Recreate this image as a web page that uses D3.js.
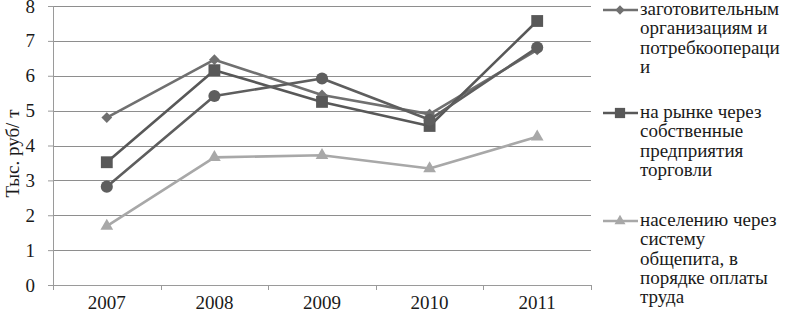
<!DOCTYPE html>
<html>
<head>
<meta charset="utf-8">
<script src="https://cdn.jsdelivr.net/npm/d3@7"></script>
<style>
  body { margin: 0; background: #fff; }
  text { font-family: "Liberation Serif", "Times New Roman", serif; fill: #1a1a1a; }
</style>
</head>
<body>
<svg id="drawing_region"></svg>
<script>
// data
const years = ["2007", "2008", "2009", "2010", "2011"];
const yTicks = [0, 1, 2, 3, 4, 5, 6, 7, 8];
const yTitle = "Тыс. руб/ т";

const procurement = [4.80, 6.46, 5.45, 4.90, 6.74];   // diamond
const market      = [3.52, 6.16, 5.25, 4.56, 7.57];   // square
const catering    = [1.69, 3.66, 3.72, 3.34, 4.25];   // triangle
const unnamed     = [2.82, 5.42, 5.92, 4.74, 6.81];   // circle, legend entry cut off

const legendLines = [
    ["заготовительным", "организациям и", "потребкоопераци", "и"],
    ["на рынке через", "собственные", "предприятия", "торговли"],
    ["населению через", "систему", "общепита, в", "порядке оплаты", "труда"]
];

const series = [
    { values: procurement, color: "#707070", shape: "diamond",  legend: 0 },
    { values: market,      color: "#585858", shape: "square",   legend: 1 },
    { values: catering,    color: "#a8a8a8", shape: "triangle", legend: 2 },
    { values: unnamed,     color: "#5e5e5e", shape: "circle",   legend: -1 }
];

const FONT = "Liberation Serif, Times New Roman, serif";

const config = {
    width: 792,
    height: 312,
    margin: { top: 6, right: 201, bottom: 27, left: 53 }
};

const svg = d3.select("#drawing_region")
    .attr("width", config.width)
    .attr("height", config.height);

const inner_width = config.width - config.margin.left - config.margin.right;
const inner_height = config.height - config.margin.top - config.margin.bottom;

const chart = svg.append("g")
    .attr("transform", `translate(${config.margin.left}, ${config.margin.top})`);

const xscale = d3.scaleBand()
    .domain(years)
    .range([0, inner_width])
    .padding(0);

const yscale = d3.scaleLinear()
    .domain([0, 8])
    .range([inner_height, 0]);

// gridlines
chart.append("g")
    .selectAll("line")
    .data(yTicks.filter(d => d > 0))
    .join("line")
    .attr("x1", 0)
    .attr("x2", inner_width)
    .attr("y1", d => Math.round(yscale(d)) + 0.5)
    .attr("y2", d => Math.round(yscale(d)) + 0.5)
    .attr("stroke", "#8e8e8e")
    .attr("stroke-width", 1);

// y axis
const yaxis = d3.axisLeft(yscale)
    .tickValues(yTicks)
    .tickSize(5)
    .tickPadding(13)
    .tickFormat(d3.format("d"));

const yaxis_group = chart.append("g").call(yaxis);
yaxis_group.select(".domain").remove();
yaxis_group.selectAll(".tick line").attr("stroke", "#9a9a9a");
yaxis_group.selectAll(".tick text")
    .attr("font-size", 19)
    .attr("font-family", FONT)
    .attr("fill", "#1a1a1a");

chart.append("line")
    .attr("x1", 0.5).attr("x2", 0.5)
    .attr("y1", 0).attr("y2", inner_height + 5)
    .attr("stroke", "#9a9a9a");

// x axis: ticks between categories
const xaxis_group = chart.append("g")
    .attr("transform", `translate(0, ${inner_height})`);

xaxis_group.append("line")
    .attr("x1", 0).attr("x2", inner_width)
    .attr("y1", 0.5).attr("y2", 0.5)
    .attr("stroke", "#9a9a9a");

const bounds = years.map(d => xscale(d)).concat([inner_width]);
xaxis_group.selectAll(".xt")
    .data(bounds)
    .join("line")
    .attr("class", "xt")
    .attr("x1", d => Math.round(d) + 0.5)
    .attr("x2", d => Math.round(d) + 0.5)
    .attr("y1", 0).attr("y2", 5)
    .attr("stroke", "#9a9a9a");

xaxis_group.selectAll(".xl")
    .data(years)
    .join("text")
    .attr("class", "xl")
    .attr("x", d => xscale(d) + xscale.bandwidth() / 2)
    .attr("y", 24)
    .attr("text-anchor", "middle")
    .attr("font-family", FONT)
    .attr("font-size", 19)
    .text(d => d);

// y title
svg.append("text")
    .attr("transform", `translate(19, ${config.margin.top + inner_height / 2 + 8}) rotate(-90)`)
    .attr("text-anchor", "middle")
    .attr("font-family", FONT)
    .attr("font-size", 19)
    .text(yTitle);

// marker shapes
function symbolPath(shape, big) {
    const k = big ? 1 : 0.75;
    if (shape === "square") return d3.symbol(d3.symbolSquare, 140 * k)();
    if (shape === "circle") return d3.symbol(d3.symbolCircle, 115 * k)();
    if (shape === "triangle") return d3.symbol(d3.symbolTriangle, 70 * k)();
    return d3.symbol(d3.symbolSquare, 58 * k)();
}
function symbolRotate(shape) {
    return shape === "diamond" ? " rotate(45)" : "";
}

const line = d3.line()
    .x((d, i) => xscale(years[i]) + xscale.bandwidth() / 2)
    .y(d => yscale(d));

series.forEach(s => {
    const g = chart.append("g");
    g.append("path")
        .attr("d", line(s.values))
        .attr("fill", "none")
        .attr("stroke", s.color)
        .attr("stroke-width", 2.6)
        .attr("stroke-linejoin", "round");
    g.selectAll("path.m")
        .data(s.values)
        .join("path")
        .attr("class", "m")
        .attr("d", symbolPath(s.shape, true))
        .attr("transform", (d, i) =>
            `translate(${xscale(years[i]) + xscale.bandwidth() / 2}, ${yscale(d)})${symbolRotate(s.shape)}`)
        .attr("fill", s.color);
});

// legend
const legendBaselines = [15, 118, 226];
const lineGap = 19.3;
const legend = svg.append("g");

series.filter(s => s.legend >= 0).forEach(s => {
    const by = legendBaselines[s.legend];
    const ly = by - 5;
    legend.append("line")
        .attr("x1", 603).attr("x2", 638)
        .attr("y1", ly).attr("y2", ly)
        .attr("stroke", s.color)
        .attr("stroke-width", 2.6);
    legend.append("path")
        .attr("d", symbolPath(s.shape, false))
        .attr("transform", `translate(620, ${ly})${symbolRotate(s.shape)}`)
        .attr("fill", s.color);
    const t = legend.append("text")
        .attr("font-family", FONT)
        .attr("font-size", 19);
    legendLines[s.legend].forEach((txt, j) => {
        t.append("tspan")
            .attr("x", 640)
            .attr("y", by + j * lineGap)
            .text(txt);
    });
});
</script>
</body>
</html>
